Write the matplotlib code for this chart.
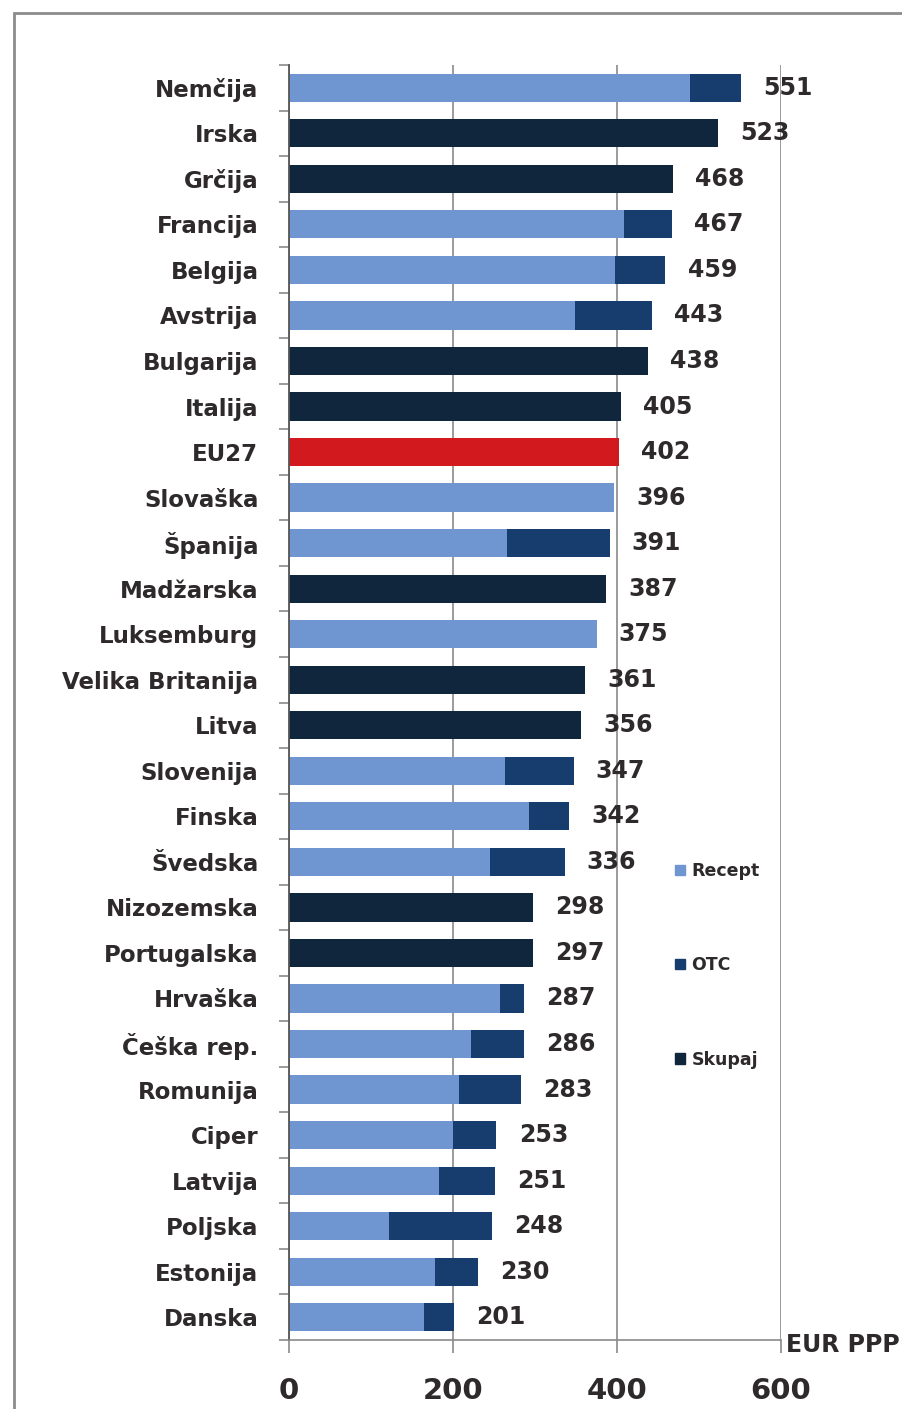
import matplotlib
matplotlib.use("Agg")
import matplotlib.pyplot as plt
from matplotlib.patches import Patch, Rectangle

# EUR PPP per capita, top row first
countries = ["Nemčija", "Irska", "Grčija", "Francija", "Belgija", "Avstrija",
             "Bulgarija", "Italija", "EU27", "Slovaška", "Španija", "Madžarska",
             "Luksemburg", "Velika Britanija", "Litva", "Slovenija", "Finska",
             "Švedska", "Nizozemska", "Portugalska", "Hrvaška", "Češka rep.",
             "Romunija", "Ciper", "Latvija", "Poljska", "Estonija", "Danska"]
recept = [489, 0, 0, 408, 397, 349, 0, 0, 0, 396, 266, 0, 375, 0, 0, 263, 293,
          245, 0, 0, 257, 222, 207, 200, 183, 122, 178, 165]
otc = [62, 0, 0, 59, 62, 94, 0, 0, 0, 0, 125, 0, 0, 0, 0, 84, 49, 91, 0, 0,
       30, 64, 76, 53, 68, 126, 52, 36]
skupaj = [0, 523, 468, 0, 0, 0, 438, 405, 402, 0, 0, 387, 0, 361, 356, 0, 0,
          0, 298, 297, 0, 0, 0, 0, 0, 0, 0, 0]
xticks = [0, 200, 400, 600]

c_recept = "#6F96D0"
c_otc = "#173D6E"
c_skupaj = "#10263D"
c_eu = "#D21A1E"
txt = "#2E2A2C"
grid = "#8A8A8A"

plt.rcParams["font.family"] = ["DejaVu Sans"]

fig = plt.figure(figsize=(9.03, 14.09), dpi=100)
ax = fig.add_axes([289 / 903, 1 - 1340 / 1409, (781 - 289) / 903, (1340 - 65) / 1409])

y = list(range(len(countries)))
sk_colors = [c_eu if c == "EU27" else c_skupaj for c in countries]
bar_h = 0.62
ax.barh(y, recept, height=bar_h, color=c_recept, zorder=2)
ax.barh(y, otc, left=recept, height=bar_h, color=c_otc, zorder=2)
ax.barh(y, skupaj, height=bar_h, color=sk_colors, zorder=2)

for i in y:
    total = recept[i] + otc[i] + skupaj[i]
    ax.annotate(str(total), (total, i), xytext=(16, 0), textcoords="offset points",
                ha="left", va="center", fontsize=17, fontweight="bold",
                color=txt, zorder=4)

ax.set_ylim(len(countries) - 0.5, -0.5)
ax.set_xlim(0, 600)
ax.set_yticks(y)
ax.set_yticklabels(countries, fontsize=16.5, fontweight="bold", color=txt)
ax.set_yticks([i - 0.5 for i in range(len(countries) + 1)], minor=True)
ax.tick_params(axis="y", which="major", length=0, pad=22)
ax.tick_params(axis="y", which="minor", length=7, width=1.2, color=grid, direction="out")

ax.set_xticks(xticks)
ax.set_xticklabels([str(v) for v in xticks], fontsize=21, fontweight="bold", color=txt)
ax.tick_params(axis="x", length=9.5, width=1.2, color=grid, direction="out", pad=17)
ax.grid(axis="x", color=grid, linewidth=1.2, zorder=1)
ax.set_axisbelow(True)

for side in ["top", "right"]:
    ax.spines[side].set_visible(False)
ax.spines["left"].set_color("#555555")
ax.spines["left"].set_linewidth(1.3)
ax.spines["bottom"].set_color(grid)
ax.spines["bottom"].set_linewidth(1.2)

ax.text(606, len(countries) - 0.4, "EUR PPP", fontsize=17, fontweight="bold",
        color=txt, ha="left", va="center", clip_on=False)

handles = [Patch(color=c_recept, label="Recept"),
           Patch(color=c_otc, label="OTC"),
           Patch(color=c_skupaj, label="Skupaj")]
fig.legend(handles=handles, loc="upper left", bbox_to_anchor=(675 / 903, 1 - 862 / 1409),
           frameon=False, prop={"weight": "bold", "size": 12.5},
           labelspacing=4.4, handlelength=0.55, handleheight=0.55,
           handletextpad=0.4, borderpad=0, borderaxespad=0, labelcolor=txt)

# outer frame
fig.patches.append(Rectangle((14 / 903, -0.1), 1.2, 1.1 - 13 / 1409, fill=False,
                             edgecolor="#8C8C8C", linewidth=2,
                             transform=fig.transFigure, figure=fig))

fig.savefig("out.png", dpi=100)
